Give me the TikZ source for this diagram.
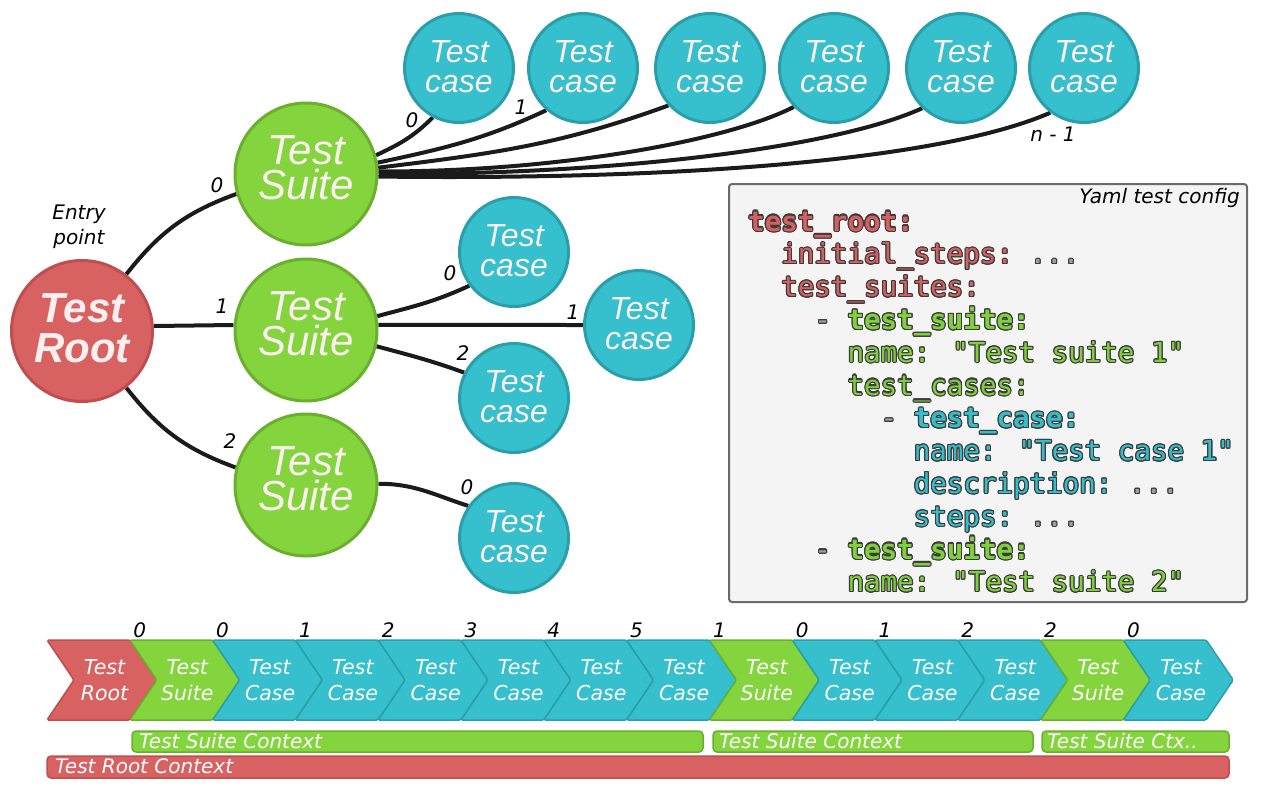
\documentclass[tikz,border=0pt]{standalone}
\usepackage{fontspec}
\usepackage{contour}
\setmainfont{DejaVu Sans}
\newfontfamily\circfont{Liberation Sans}
\newfontfamily\codefont{DejaVu Sans Mono}
\contourlength{1.1pt}
\definecolor{rfill}{HTML}{D86262}
\definecolor{rline}{HTML}{C04E4E}
\definecolor{gfill}{HTML}{84D43E}
\definecolor{gline}{HTML}{6AAF2E}
\definecolor{bfill}{HTML}{36BFCC}
\definecolor{bline}{HTML}{2A9FAB}
\definecolor{txtw}{HTML}{FBEFEF}
\definecolor{edgec}{HTML}{1B1B1B}
\definecolor{boxfill}{HTML}{F4F4F4}
\definecolor{boxline}{HTML}{6A6A6A}
\definecolor{codeol}{HTML}{3C3C3C}
\definecolor{cr}{HTML}{D85F5F}
\definecolor{cg}{HTML}{7ED13B}
\definecolor{cb}{HTML}{35BDCB}
\definecolor{cgr}{HTML}{A0A0A0}
\newcommand\ckey[2]{\textcolor{#1}{\contour{codeol}{\bfseries #2}}}
\newcommand\ctxt[2]{\textcolor{#1}{\contour{codeol}{#2}}}
\pgfdeclarelayer{bg}
\pgfsetlayers{bg,main}
\tikzset{
  circ/.style={circle, line width=3pt, inner sep=0pt, align=center, text=txtw},
  rootc/.style={circ, fill=rfill, draw=rline, minimum size=141pt, text depth=6pt,
    font=\circfont\bfseries\itshape\fontsize{42}{40}\selectfont},
  suitec/.style={circ, fill=gfill, draw=gline, minimum size=142pt, text depth=13pt,
    font=\circfont\itshape\fontsize{42}{35}\selectfont},
  casec/.style={circ, fill=bfill, draw=bline, minimum size=109pt, text depth=3pt,
    font=\circfont\itshape\fontsize{32}{30}\selectfont},
  edge/.style={line width=4pt, draw=edgec},
  lbl/.style={font=\itshape\fontsize{20}{25}\selectfont, inner sep=0pt, align=center},
  chR/.style={fill=rfill, draw=rline, line width=1.5pt, rounded corners=1.5pt},
  chG/.style={fill=gfill, draw=gline, line width=1.5pt, rounded corners=1.5pt},
  chB/.style={fill=bfill, draw=bline, line width=1.5pt, rounded corners=1.5pt},
  chtxt/.style={font=\itshape\fontsize{20.5}{26}\selectfont, text=white, align=center, inner sep=0pt},
  ctxG/.style={fill=gfill, draw=gline, line width=1.5pt, rounded corners=4pt},
  ctxR/.style={fill=rfill, draw=rline, line width=1.5pt, rounded corners=4pt},
  ctxtxt/.style={font=\itshape\fontsize{20}{22}\selectfont, text=white, inner sep=0pt, anchor=west},
  yamlbox/.style={fill=boxfill, draw=boxline, line width=2pt, rounded corners=3pt},
  codeline/.style={anchor=base west, inner sep=0pt, font=\codefont\fontsize{27.5}{30}\selectfont},
}
\begin{document}
\begin{tikzpicture}[x=1pt,y=-1pt]
\useasboundingbox (0,0) rectangle (1280,790);

% tree nodes
\node[rootc] (root) at (82,331) {Test\\Root};
\node[suitec] (s1) at (306,174) {Test\\Suite};
\node[suitec] (s2) at (306,330) {Test\\Suite};
\node[suitec] (s3) at (306,485) {Test\\Suite};
\foreach \n/\x in {0/459,1/583,2/710,3/834,4/961,5/1084}
  \node[casec] (c\n) at (\x,68) {Test\\case};
\node[casec] (m0) at (514,252) {Test\\case};
\node[casec] (m1) at (639,325) {Test\\case};
\node[casec] (m2) at (514,398) {Test\\case};
\node[casec] (b0) at (514,538) {Test\\case};

% connectors
\begin{pgfonlayer}{bg}
\draw[edge] (root.52) to[out=52,in=200] (s1.196);
\draw[edge] ([yshift=5pt]root.east) -- ([yshift=5pt]s2.west);
\draw[edge] (root.-52) to[out=-52,in=160] (s3.166);
\draw[edge] (s1.15) to[out=25,in=225] (c0.242);
\draw[edge] (s1.9) to[out=12,in=205] (c1.229);
\draw[edge] (s1.5) to[out=7,in=200] (c2.222);
\draw[edge] (s1.2) .. controls (560,172) and (730,140) .. (c3.224);
\draw[edge] (s1.0) .. controls (600,175) and (830,150) .. (c4.226);
\draw[edge] (s1.-2) .. controls (640,180) and (930,165) .. (c5.233);
\draw[edge] (s2.11) to[out=15,in=205] (m0.217);
\draw[edge] (s2.4) -- (m1.180);
\draw[edge] (s2.-13) to[out=-15,in=160] (m2.153);
\draw[edge] (s3.1) to[out=0,in=162] (b0.145);
\end{pgfonlayer}

% labels
\node[lbl] (entry) at (79,227) {Entry\\point};
\node[lbl] (l-s1) at (217,185) {0};
\node[lbl] (l-s2) at (222,306) {1};
\node[lbl] (l-s3) at (230,441) {2};
\node[lbl] (l-c0) at (412,120) {0};
\node[lbl] (l-c1) at (521,107) {1};
\node[lbl] (l-c5) at (1053,134) {n - 1};
\node[lbl] (l-m0) at (450,273) {0};
\node[lbl] (l-m1) at (573,312) {1};
\node[lbl] (l-m2) at (463,353) {2};
\node[lbl] (l-b0) at (467,487) {0};

% yaml box
\draw[yamlbox] (729,184) rectangle (1247,602);
\node[lbl, anchor=base east] (ytitle) at (1240,203) {Yaml test config};
\node[codeline] (y0) at (748,231) {\ckey{cr}{test\_root:}};
\node[codeline] (y1) at (748+16.56*2,231+32.8*1) {\ctxt{cr}{initial\_steps:} \ctxt{cgr}{...}};
\node[codeline] (y2) at (748+16.56*2,231+32.8*2) {\ctxt{cr}{test\_suites:}};
\node[codeline] (y3) at (748+16.56*4,231+32.8*3) {\ctxt{cgr}{-} \ckey{cg}{test\_suite:}};
\node[codeline] (y4) at (748+16.56*6,231+32.8*4) {\ctxt{cg}{name: "Test suite 1"}};
\node[codeline] (y5) at (748+16.56*6,231+32.8*5) {\ctxt{cg}{test\_cases:}};
\node[codeline] (y6) at (748+16.56*8,231+32.8*6) {\ctxt{cgr}{-} \ckey{cb}{test\_case:}};
\node[codeline] (y7) at (748+16.56*10,231+32.8*7) {\ctxt{cb}{name: "Test case 1"}};
\node[codeline] (y8) at (748+16.56*10,231+32.8*8) {\ctxt{cb}{description:} \ctxt{cgr}{...}};
\node[codeline] (y9) at (748+16.56*10,231+32.8*9) {\ctxt{cb}{steps:} \ctxt{cgr}{...}};
\node[codeline] (y10) at (748+16.56*4,231+32.8*10) {\ctxt{cgr}{-} \ckey{cg}{test\_suite:}};
\node[codeline] (y11) at (748+16.56*6,231+32.8*11) {\ctxt{cg}{name: "Test suite 2"}};

% chevron sequence
\foreach \i/\st/\ta/\tb/\num in {0/chR/Test/Root/{},1/chG/Test/Suite/0,2/chB/Test/Case/0,
  3/chB/Test/Case/1,4/chB/Test/Case/2,5/chB/Test/Case/3,6/chB/Test/Case/4,7/chB/Test/Case/5,
  8/chG/Test/Suite/1,9/chB/Test/Case/0,10/chB/Test/Case/1,11/chB/Test/Case/2,
  12/chG/Test/Suite/2,13/chB/Test/Case/0}{
  \pgfmathsetmacro\xx{47+82.8*\i}
  \draw[\st] (\xx,640) -- (\xx+82.8,640) -- (\xx+109.8,680) -- (\xx+82.8,720)
     -- (\xx,720) -- (\xx+27,680) -- cycle;
  \node[chtxt] (ch\i) at (\xx+57.5,680) {\ta\\\tb};
  \node[lbl, anchor=base] (num\i) at (\xx+10,637) {\num};
}

% context bars
\draw[ctxG] (132,731) rectangle (703,752);
\node[ctxtxt] (ctx1) at (139,741) {Test Suite Context};
\draw[ctxG] (713,731) rectangle (1033,752);
\node[ctxtxt] (ctx2) at (719,741) {Test Suite Context};
\draw[ctxG] (1042,731) rectangle (1229,752);
\node[ctxtxt] (ctx3) at (1047,741) {Test Suite Ctx..};
\draw[ctxR] (47,756) rectangle (1229,778);
\node[ctxtxt] (ctx4) at (55,766) {Test Root Context};
\end{tikzpicture}
\end{document}
